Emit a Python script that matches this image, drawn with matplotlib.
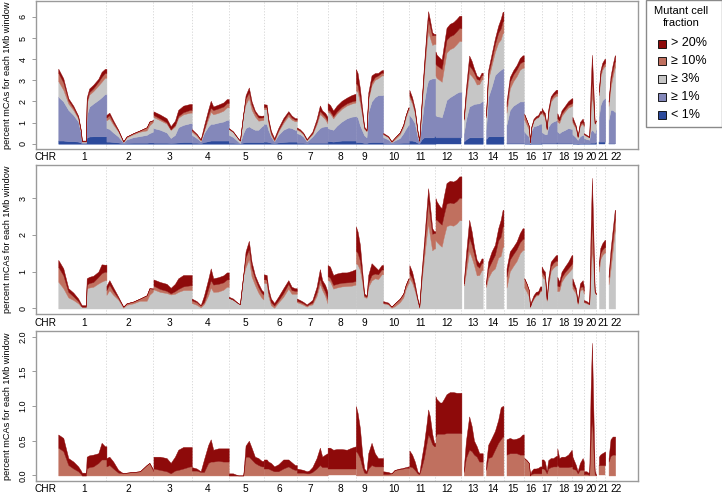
import numpy as np
import matplotlib
matplotlib.use("Agg")
import matplotlib.pyplot as plt
from matplotlib.patches import Rectangle

plt.rcParams['font.family'] = ['Liberation Sans', 'DejaVu Sans']

# Chromosomes and their lengths (Mb)
chrom_names = [str(i) for i in range(1, 23)]
chrom_len = [249, 243, 198, 191, 181, 171, 159, 146, 141, 135.5, 135,
             134, 115, 107, 102.5, 90, 81, 78, 59, 63, 48, 51]
# Where each chromosome name sits (Mb within the chromosome)
chrom_label_mb = [134, 113, 82, 80, 87, 80, 68, 64, 46, 56, 59,
                  60, 60, 48, 45, 32, 28, 33, 29, 40, 37, 54]

# Window positions (Mb within chromosome)
mb = [
    [0, 26, 52, 78, 103, 117, 122, 143, 147, 160, 181, 207, 224, 241, 249],
    [0, 15, 35, 61, 87, 104, 139, 173, 208, 222, 243],
    [0, 34, 68, 89, 111, 128, 154, 189, 198],
    [0, 25, 46, 63, 85, 98, 111, 137, 163, 181, 191],
    [0, 22, 49, 58, 75, 87, 104, 118, 135, 153, 170, 181],
    [0, 15, 23, 37, 54, 75, 101, 127, 144, 161, 171],
    [0, 16, 33, 51, 63, 80, 102, 119, 131, 146, 159],
    [0, 12, 29, 47, 73, 99, 124, 146],
    [0, 9, 21, 33, 43, 55, 64, 81, 98, 115, 133, 141],
    [0, 26, 43, 60, 86, 104, 116, 130, 135],
    [0, 14, 28, 42, 51, 63, 75, 89, 97, 106, 118, 128, 135],
    [0, 6, 23, 32, 43, 57, 74, 92, 109, 123, 134],
    [12, 23, 40, 53, 65, 79, 92, 104, 110],
    [12, 23, 41, 58, 75, 88, 98, 102],
    [11, 28, 46, 63, 80, 94, 100],
    [0, 12, 24, 30, 36, 48, 60, 72, 82, 90],
    [0, 9, 17, 26, 34, 47, 60, 74, 81],
    [0, 10, 22, 39, 56, 74, 78],
    [0, 18, 27, 39, 53, 59],
    [0, 14, 28, 35, 42, 49, 56, 63],
    [15, 22, 32, 44, 48],
    [17, 27, 38, 49, 51],
]

# percent mCAs, mutant cell fraction < 1%
lt1 = [
    [0.15, 0.15, 0.12, 0.12, 0.10, 0.05, 0.03, 0.03, 0.30, 0.34, 0.35, 0.35, 0.35, 0.35, 0.35],
    [0.10, 0.10, 0.08, 0.06, 0.02, 0.04, 0.05, 0.05, 0.05, 0.06, 0.06],
    [0.05, 0.05, 0.05, 0.04, 0.05, 0.06, 0.08, 0.08, 0.08],
    [0.05, 0.05, 0.03, 0.08, 0.12, 0.15, 0.15, 0.15, 0.15, 0.15, 0.15],
    [0.05, 0.05, 0.03, 0.02, 0.06, 0.08, 0.08, 0.08, 0.08, 0.08, 0.08, 0.08],
    [0.10, 0.10, 0.08, 0.05, 0.03, 0.06, 0.08, 0.10, 0.10, 0.10, 0.10],
    [0.05, 0.05, 0.05, 0.03, 0.05, 0.05, 0.05, 0.05, 0.05, 0.05, 0.05],
    [0.12, 0.12, 0.10, 0.12, 0.15, 0.15, 0.15, 0.15],
    [0.08, 0.08, 0.08, 0.06, 0.04, 0.04, 0.06, 0.08, 0.08, 0.08, 0.08, 0.08],
    [0.04, 0.03, 0.02, 0.03, 0.04, 0.05, 0.05, 0.05, 0.05],
    [0.15, 0.15, 0.12, 0.05, 0.02, 0.20, 0.30, 0.30, 0.30, 0.30, 0.30, 0.30, 0.30],
    [0.30, 0.30, 0.30, 0.30, 0.30, 0.30, 0.30, 0.30, 0.30, 0.30, 0.30],
    [0.10, 0.20, 0.30, 0.30, 0.30, 0.30, 0.30, 0.30, 0.30],
    [0.20, 0.35, 0.35, 0.35, 0.35, 0.35, 0.35, 0.35],
    [0.03, 0.03, 0.03, 0.03, 0.03, 0.03, 0.03],
    [0.03, 0.03, 0.03, 0.00, 0.03, 0.03, 0.03, 0.03, 0.03, 0.03],
    [0.03, 0.03, 0.03, 0.03, 0.03, 0.03, 0.03, 0.03, 0.03],
    [0.03, 0.03, 0.03, 0.03, 0.03, 0.03, 0.03],
    [0.03, 0.02, 0.01, 0.02, 0.03, 0.03],
    [0.03, 0.03, 0.03, 0.05, 0.05, 0.05, 0.05, 0.08],
    [0.10, 0.10, 0.10, 0.10, 0.10],
    [0.02, 0.02, 0.02, 0.02, 0.02],
]

# mutant cell fraction >= 1%
ge1 = [
    [2.08, 1.85, 1.48, 1.24, 0.95, 0.45, 0.03, 0.03, 1.06, 1.41, 1.55, 1.72, 1.85, 2.00, 2.00],
    [0.64, 0.60, 0.45, 0.28, 0.04, 0.16, 0.26, 0.31, 0.37, 0.44, 0.52],
    [0.69, 0.61, 0.48, 0.23, 0.37, 0.72, 0.81, 0.89, 0.89],
    [0.37, 0.22, 0.08, 0.42, 0.70, 0.79, 0.79, 0.85, 0.90, 0.98, 0.98],
    [0.37, 0.27, 0.07, 0.01, 0.44, 0.66, 0.74, 0.66, 0.58, 0.58, 0.74, 0.81],
    [0.84, 0.84, 0.58, 0.29, 0.08, 0.36, 0.58, 0.67, 0.64, 0.56, 0.56],
    [0.45, 0.40, 0.29, 0.08, 0.15, 0.29, 0.53, 0.69, 0.75, 0.77, 0.77],
    [0.62, 0.58, 0.56, 0.73, 0.90, 1.05, 1.13, 1.15],
    [1.22, 1.17, 0.80, 0.55, 0.36, 0.26, 1.44, 1.92, 2.12, 2.22, 2.22, 2.22],
    [0.27, 0.17, 0.04, 0.12, 0.23, 0.45, 0.65, 0.85, 0.85],
    [1.21, 1.05, 0.85, 0.29, 0.08, 0.77, 1.61, 2.40, 2.70, 2.75, 2.79, 2.79, 2.79],
    [1.06, 1.00, 0.98, 0.95, 1.30, 1.77, 1.90, 2.00, 2.10, 2.16, 2.16],
    [0.40, 0.93, 1.46, 1.52, 1.58, 1.60, 1.61, 1.70, 1.70],
    [0.46, 1.85, 2.35, 2.90, 3.05, 3.15, 3.21, 3.21],
    [0.87, 1.57, 1.77, 1.87, 1.97, 1.97, 1.97],
    [0.55, 0.42, 0.31, 0.02, 0.57, 0.79, 0.82, 0.86, 0.92, 0.92],
    [0.52, 0.47, 0.42, 0.42, 0.77, 0.94, 1.02, 1.07, 1.07],
    [0.55, 0.47, 0.55, 0.62, 0.71, 0.67, 0.67],
    [0.42, 0.28, 0.17, 0.33, 0.39, 0.37],
    [0.24, 0.19, 0.16, 0.53, 0.61, 0.55, 0.45, 0.62],
    [1.20, 1.70, 1.95, 2.05, 2.05],
    [1.11, 1.58, 1.58, 1.48, 1.48],
]

# mutant cell fraction >= 3%
ge3 = [
    [0.73, 0.55, 0.30, 0.23, 0.14, 0.06, 0.05, 0.05, 0.55, 0.57, 0.59, 0.68, 0.73, 0.77, 0.77],
    [0.37, 0.50, 0.37, 0.24, 0.02, 0.10, 0.14, 0.21, 0.21, 0.37, 0.47],
    [0.52, 0.45, 0.42, 0.38, 0.40, 0.45, 0.50, 0.50, 0.50],
    [0.15, 0.10, 0.03, 0.12, 0.36, 0.57, 0.45, 0.46, 0.51, 0.59, 0.59],
    [0.29, 0.24, 0.14, 0.12, 0.91, 1.12, 1.34, 0.87, 0.64, 0.43, 0.29, 0.24],
    [0.70, 0.68, 0.35, 0.09, 0.02, 0.16, 0.32, 0.54, 0.40, 0.40, 0.40],
    [0.17, 0.14, 0.10, 0.05, 0.09, 0.11, 0.34, 0.67, 0.50, 0.34, 0.13],
    [0.78, 0.74, 0.54, 0.57, 0.60, 0.61, 0.62, 0.65],
    [1.23, 1.19, 1.05, 0.70, 0.31, 0.29, 0.59, 0.76, 0.82, 0.80, 0.93, 0.93],
    [0.14, 0.11, 0.02, 0.06, 0.17, 0.30, 0.52, 0.69, 0.69],
    [0.82, 0.70, 0.48, 0.21, 0.02, 0.75, 1.32, 1.98, 2.32, 1.97, 1.58, 1.63, 1.63],
    [1.86, 1.81, 1.72, 1.68, 1.95, 2.24, 2.27, 2.25, 2.31, 2.40, 2.40],
    [0.63, 0.96, 1.56, 1.38, 1.18, 0.90, 0.91, 1.04, 1.04],
    [0.58, 0.83, 1.01, 1.09, 1.38, 1.43, 1.68, 1.68],
    [0.57, 1.01, 1.16, 1.29, 1.50, 1.59, 1.59],
    [0.57, 0.46, 0.32, 0.05, 0.14, 0.26, 0.35, 0.36, 0.47, 0.47],
    [0.91, 0.82, 0.80, 0.21, 0.60, 1.02, 1.11, 1.17, 1.17],
    [0.47, 0.48, 0.73, 0.87, 0.97, 1.08, 1.15],
    [0.55, 0.40, 0.12, 0.50, 0.52, 0.40],
    [0.17, 0.14, 0.11, 0.88, 1.64, 1.12, 0.44, 0.39],
    [1.00, 1.34, 1.45, 1.52, 1.52],
    [0.66, 1.07, 1.58, 2.12, 2.12],
]

# mutant cell fraction >= 10%
ge10 = [
    [0.40, 0.35, 0.15, 0.10, 0.06, 0.02, 0.00, 0.00, 0.10, 0.12, 0.13, 0.18, 0.23, 0.23, 0.23],
    [0.13, 0.15, 0.10, 0.04, 0.03, 0.04, 0.05, 0.06, 0.15, 0.18, 0.06],
    [0.10, 0.08, 0.06, 0.03, 0.07, 0.08, 0.10, 0.13, 0.13],
    [0.07, 0.07, 0.05, 0.05, 0.18, 0.20, 0.20, 0.21, 0.20, 0.20, 0.20],
    [0.00, 0.00, 0.00, 0.00, 0.00, 0.27, 0.27, 0.23, 0.18, 0.15, 0.13, 0.13],
    [0.10, 0.10, 0.10, 0.08, 0.06, 0.06, 0.10, 0.13, 0.10, 0.08, 0.08],
    [0.04, 0.04, 0.04, 0.03, 0.03, 0.05, 0.10, 0.15, 0.12, 0.12, 0.12],
    [0.10, 0.10, 0.10, 0.10, 0.10, 0.10, 0.10, 0.10],
    [0.35, 0.32, 0.25, 0.12, 0.04, 0.03, 0.10, 0.15, 0.13, 0.13, 0.13, 0.13],
    [0.02, 0.02, 0.03, 0.08, 0.09, 0.10, 0.11, 0.11, 0.11],
    [0.13, 0.12, 0.08, 0.03, 0.02, 0.12, 0.25, 0.47, 0.59, 0.54, 0.45, 0.42, 0.42],
    [0.56, 0.60, 0.60, 0.60, 0.60, 0.61, 0.61, 0.61, 0.61, 0.61, 0.61],
    [0.05, 0.25, 0.37, 0.35, 0.30, 0.27, 0.20, 0.20, 0.20],
    [0.08, 0.25, 0.27, 0.37, 0.47, 0.52, 0.56, 0.56],
    [0.30, 0.32, 0.32, 0.32, 0.30, 0.30, 0.30],
    [0.25, 0.22, 0.18, 0.00, 0.02, 0.03, 0.03, 0.03, 0.03, 0.03],
    [0.10, 0.10, 0.08, 0.03, 0.10, 0.12, 0.13, 0.13, 0.13],
    [0.15, 0.12, 0.12, 0.12, 0.12, 0.13, 0.13],
    [0.10, 0.08, 0.03, 0.08, 0.08, 0.08],
    [0.02, 0.02, 0.01, 0.50, 0.85, 0.40, 0.02, 0.00],
    [0.15, 0.15, 0.15, 0.15, 0.15],
    [0.20, 0.28, 0.30, 0.30, 0.30],
]

# mutant cell fraction > 20%
gt20 = [
    [0.19, 0.19, 0.10, 0.10, 0.07, 0.05, 0.04, 0.04, 0.17, 0.17, 0.17, 0.14, 0.24, 0.19, 0.19],
    [0.12, 0.12, 0.10, 0.04, 0.00, 0.00, 0.00, 0.00, 0.00, 0.00, 0.02],
    [0.17, 0.19, 0.19, 0.15, 0.20, 0.29, 0.31, 0.28, 0.28],
    [0.05, 0.03, 0.01, 0.18, 0.26, 0.32, 0.17, 0.18, 0.19, 0.19, 0.19],
    [0.03, 0.03, 0.00, 0.00, 0.00, 0.16, 0.23, 0.17, 0.09, 0.10, 0.08, 0.08],
    [0.13, 0.13, 0.10, 0.10, 0.07, 0.10, 0.13, 0.10, 0.09, 0.07, 0.07],
    [0.06, 0.05, 0.04, 0.03, 0.04, 0.07, 0.15, 0.25, 0.15, 0.18, 0.20],
    [0.30, 0.30, 0.27, 0.28, 0.28, 0.27, 0.30, 0.32],
    [0.65, 0.58, 0.43, 0.18, 0.06, 0.03, 0.22, 0.32, 0.19, 0.12, 0.12, 0.12],
    [0.04, 0.03, 0.00, 0.00, 0.01, 0.01, 0.01, 0.02, 0.02],
    [0.23, 0.18, 0.12, 0.03, 0.01, 0.13, 0.20, 0.28, 0.36, 0.31, 0.15, 0.05, 0.05],
    [0.58, 0.50, 0.45, 0.45, 0.50, 0.56, 0.59, 0.59, 0.58, 0.58, 0.58],
    [0.05, 0.24, 0.48, 0.36, 0.20, 0.15, 0.12, 0.12, 0.12],
    [0.07, 0.19, 0.27, 0.27, 0.33, 0.46, 0.44, 0.44],
    [0.22, 0.22, 0.20, 0.21, 0.25, 0.29, 0.29],
    [0.00, 0.00, 0.00, 0.00, 0.04, 0.07, 0.07, 0.08, 0.10, 0.10],
    [0.13, 0.13, 0.12, 0.03, 0.12, 0.13, 0.12, 0.15, 0.15],
    [0.24, 0.13, 0.15, 0.15, 0.18, 0.24, 0.17],
    [0.17, 0.07, 0.03, 0.10, 0.17, 0.12],
    [0.04, 0.04, 0.02, 0.71, 1.06, 0.57, 0.04, 0.02],
    [0.12, 0.15, 0.17, 0.19, 0.19],
    [0.05, 0.24, 0.26, 0.26, 0.26],
]

layers = [lt1, ge1, ge3, ge10, gt20]
layer_colors = ['#2C4A9C', '#8488BA', '#C6C6C6', '#C0705F', '#8E0A0A']
legend_labels = ['> 20%', '\u2265 10%', '\u2265 3%', '\u2265 1%', '< 1%']

# Panel settings: which layers are stacked, y range and ticks
panel_layers = [[0, 1, 2, 3, 4], [2, 3, 4], [3, 4]]
panel_ylim = [(-0.25, 6.75), (-0.15, 3.9), (-0.08, 2.08)]
panel_ticks = [[0, 1, 2, 3, 4, 5, 6], [0, 1, 2, 3], [0.0, 0.5, 1.0, 1.5, 2.0]]
panel_ticklabels = [[str(t) for t in panel_ticks[0]],
                    [str(t) for t in panel_ticks[1]],
                    ['%.1f' % t for t in panel_ticks[2]]]
# (top, bottom) of each panel in pixels
panel_px = [(1, 149), (165, 314), (331, 481)]

W, H = 722, 493
fig = plt.figure(figsize=(W / 100, H / 100), dpi=100)

starts = np.concatenate([[0], np.cumsum(chrom_len)[:-1]])
frame_col = '#9a9a9a'

for p in range(3):
    top, bot = panel_px[p]
    ax = fig.add_axes([36 / W, 1 - bot / H, 602 / W, (bot - top) / H])

    # Dotted chromosome boundaries
    for b in starts[1:]:
        ax.axvline(b, color='#d4d4d4', lw=0.6, ls=(0, (1.5, 2)), zorder=0)

    # Stacked areas for every chromosome
    for c in range(len(chrom_names)):
        x = starts[c] + np.array(mb[c])
        ys = [layers[k][c] for k in panel_layers[p]]
        cols = [layer_colors[k] for k in panel_layers[p]]
        ax.stackplot(x, *ys, colors=cols, edgecolor='face', linewidth=0.3, zorder=2)

    ax.set_xlim(-115, 2996)
    ax.set_ylim(*panel_ylim[p])
    ax.set_xticks([])
    ax.set_yticks(panel_ticks[p])
    ax.set_yticklabels(panel_ticklabels[p], rotation=90, va='center', fontsize=6.5)
    ax.tick_params(axis='y', length=3, width=0.7, color=frame_col, pad=3)
    for s in ax.spines.values():
        s.set_color(frame_col)
        s.set_linewidth(1.0)
    ax.set_ylabel('percent mCAs for each 1Mb window', fontsize=6.6)
    ax.yaxis.set_label_coords(-(36 - 12) / 602, 0.5)

    # Chromosome labels under each panel
    ax.annotate('CHR', xy=(-65, 0), xycoords=('data', 'axes fraction'),
                xytext=(0, -8.5), textcoords='offset pixels',
                ha='center', va='center', fontsize=7.3)
    for c in range(len(chrom_names)):
        xlab = starts[c] + chrom_label_mb[c]
        ax.annotate(chrom_names[c], xy=(xlab, 0), xycoords=('data', 'axes fraction'),
                    xytext=(0, -8.5), textcoords='offset pixels',
                    ha='center', va='center', fontsize=7.3)

# Legend box drawn by hand
fig.add_artist(Rectangle((646 / W, 1 - 127 / H), 75.5 / W, 126.5 / H,
                         transform=fig.transFigure, fill=False,
                         edgecolor='#8a8a8a', lw=1.0))
fig.text(681.5 / W, 1 - 10.5 / H, 'Mutant cell', ha='center', va='center', fontsize=8)
fig.text(681.5 / W, 1 - 23 / H, 'fraction', ha='center', va='center', fontsize=8)
legend_y = [43.5, 61, 79, 96.5, 114.5]
for i, k in enumerate([4, 3, 2, 1, 0]):
    yc = legend_y[i]
    fig.add_artist(Rectangle((657.5 / W, 1 - (yc + 4) / H), 8 / W, 8 / H,
                             transform=fig.transFigure, facecolor=layer_colors[k],
                             edgecolor='black', lw=0.6))
    fig.text(671 / W, 1 - yc / H, legend_labels[i], ha='left', va='center', fontsize=9)

fig.savefig('out.png', dpi=100)
